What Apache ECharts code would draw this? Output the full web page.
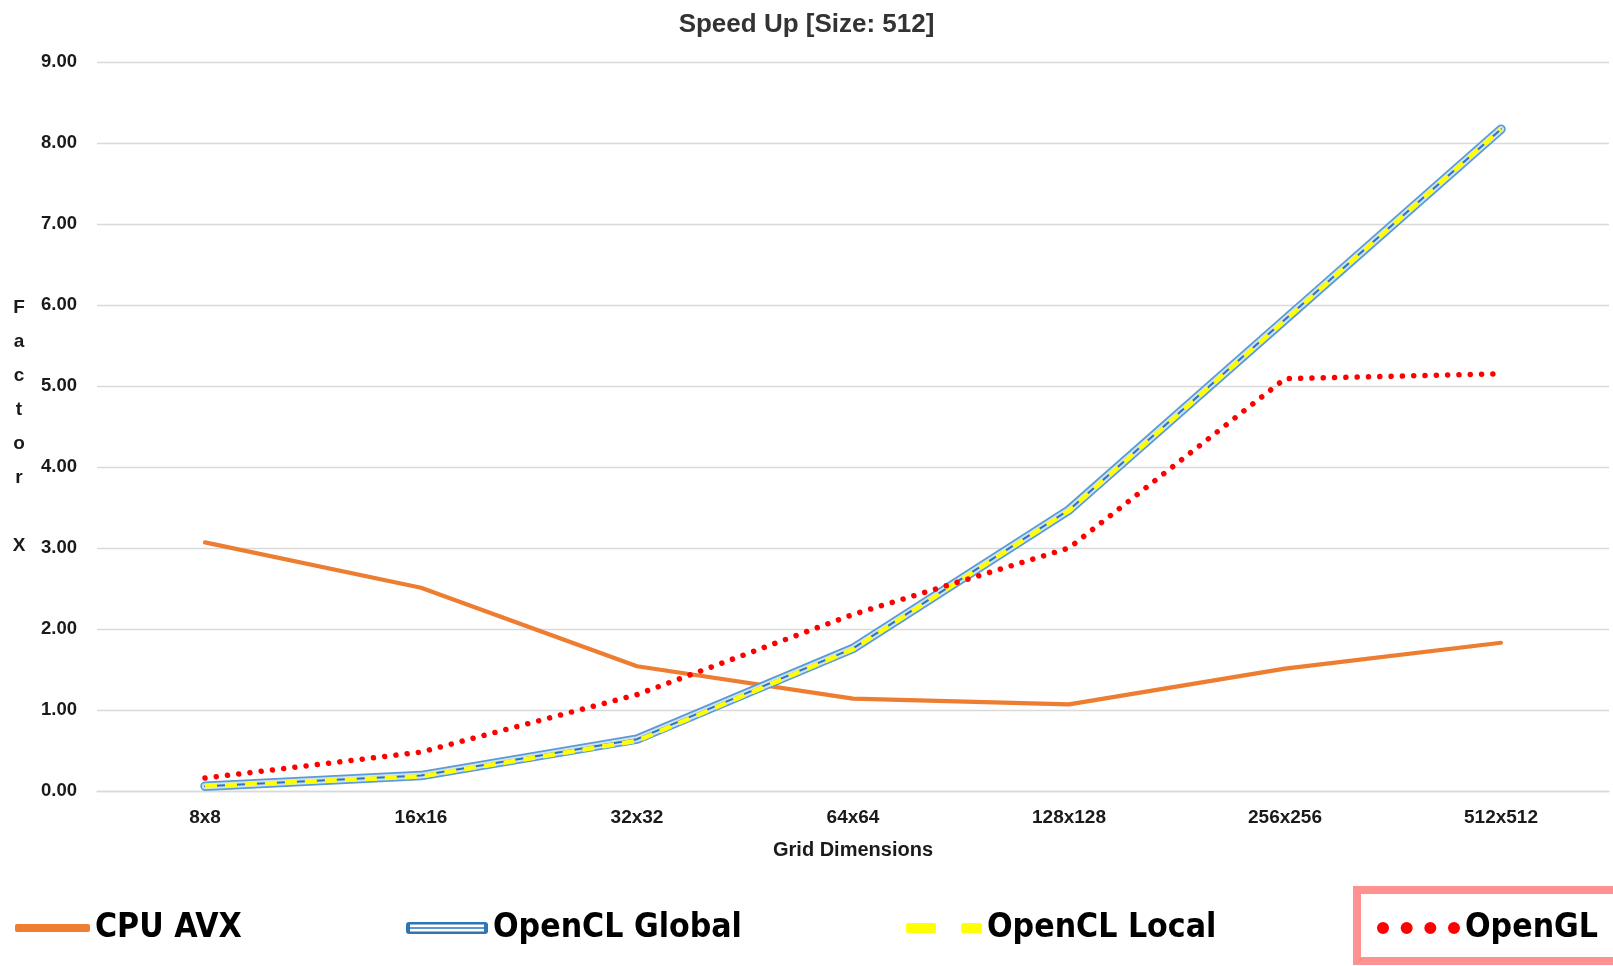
<!DOCTYPE html>
<html>
<head>
<meta charset="utf-8">
<script src="https://cdn.jsdelivr.net/npm/echarts@6/dist/echarts.min.js"></script>
<style>
  html, body { margin: 0; padding: 0; background: #ffffff; }
  #chart { width: 1613px; height: 966px; }
</style>
</head>
<body>
<div id="chart"></div>
<script>
// ---- data ----
const categories = ['8x8', '16x16', '32x32', '64x64', '128x128', '256x256', '512x512'];
const cpuAvx = [3.07, 2.51, 1.54, 1.14, 1.07, 1.51, 1.83];
const openclGlobal = [0.06, 0.19, 0.64, 1.76, 3.47, 5.82, 8.17];
const openclLocal = [0.06, 0.18, 0.62, 1.75, 3.46, 5.81, 8.17];
const openGL = [0.16, 0.48, 1.19, 2.18, 3.00, 5.09, 5.15];
const yTicks = { min: 0, max: 9, interval: 1 };
const titleText = 'Speed Up [Size: 512]';
const xName = 'Grid Dimensions';
const yName = 'F\na\nc\nt\no\nr\n \nX';

const boldFont = "'Liberation Sans', Arial, sans-serif";
const narrowFont = "'DejaVu Sans Condensed', 'Liberation Sans', sans-serif";

const legendText = { fontFamily: narrowFont, fontWeight: 'bold', fontSize: 33.5, color: '#000', lineHeight: 40 };

const iconGlobal = 'path://M3,0 H79 A3,3 0 0 1 82,3 V9 A3,3 0 0 1 79,12 H3 A3,3 0 0 1 0,9 V3 A3,3 0 0 1 3,0 Z M4,2.6 V5.2 H78 V2.6 Z M4,6.8 V9.4 H78 V6.8 Z';
const iconLocal = 'path://M2,0 H28 A2,2 0 0 1 30,2 V8 A2,2 0 0 1 28,10 H2 A2,2 0 0 1 0,8 V2 A2,2 0 0 1 2,0 Z M57,0 H74 A2,2 0 0 1 76,2 V8 A2,2 0 0 1 74,10 H57 A2,2 0 0 1 55,8 V2 A2,2 0 0 1 57,0 Z';
const iconGL = 'path://M0,6 A6,6 0 1,0 12,6 A6,6 0 1,0 0,6 Z M23.67,6 A6,6 0 1,0 35.67,6 A6,6 0 1,0 23.67,6 Z M47.33,6 A6,6 0 1,0 59.33,6 A6,6 0 1,0 47.33,6 Z M71,6 A6,6 0 1,0 83,6 A6,6 0 1,0 71,6 Z';

const chart = echarts.init(document.getElementById('chart'), null, { renderer: 'canvas' });

function legendBlock(name, left, icon, w, h, color) {
  return {
    left: left, top: 908, padding: 0, orient: 'horizontal',
    itemWidth: w, itemHeight: h, selectedMode: true,
    textStyle: legendText,
    data: [{ name: name, icon: icon, itemStyle: { color: color, borderWidth: 0 } }]
  };
}

const option = {
  backgroundColor: '#ffffff',
  animation: false,
  title: {
    text: titleText, left: 'center', top: 12, padding: 0,
    textStyle: { fontFamily: boldFont, fontWeight: 'bold', fontSize: 26, color: '#333333' }
  },
  grid: { left: 97, right: 4, top: 62, bottom: 175, containLabel: false },
  legend: [
    legendBlock('CPU AVX', 15, 'roundRect', 75, 8, '#ED7D31'),
    legendBlock('OpenCL Global', 406, iconGlobal, 82, 12, '#2E75B6'),
    legendBlock('OpenCL Local', 906, iconLocal, 76, 10, '#FFFF00'),
    legendBlock('OpenGL', 1377, iconGL, 83, 12, '#FF0000')
  ],
  graphic: [{
    type: 'rect', z: 0,
    shape: { x: 1357, y: 890, width: 270, height: 71 },
    style: { fill: 'none', stroke: '#FF9191', lineWidth: 8 }
  }],
  xAxis: {
    type: 'category', data: categories, boundaryGap: true,
    name: xName, nameLocation: 'middle', nameGap: 49,
    nameTextStyle: { fontFamily: boldFont, fontWeight: 'bold', fontSize: 20, color: '#1a1a1a' },
    axisLine: { show: true, lineStyle: { color: '#D9D9D9', width: 1.3 } },
    axisTick: { show: false },
    axisLabel: { margin: 17, fontFamily: boldFont, fontWeight: 'bold', fontSize: 19, color: '#1a1a1a' },
    splitLine: { show: false }
  },
  yAxis: {
    type: 'value', min: yTicks.min, max: yTicks.max, interval: yTicks.interval,
    name: yName, nameLocation: 'middle', nameRotate: 0, nameGap: 78,
    nameTextStyle: { fontFamily: boldFont, fontWeight: 'bold', fontSize: 19, color: '#1a1a1a', lineHeight: 34, align: 'center', verticalAlign: 'middle', padding: [10, 0, 0, 0] },
    axisLine: { show: false },
    axisTick: { show: false },
    axisLabel: {
      margin: 20, fontFamily: boldFont, fontWeight: 'bold', fontSize: 18.5, color: '#1a1a1a',
      formatter: v => v.toFixed(2)
    },
    splitLine: { show: true, lineStyle: { color: '#D9D9D9', width: 1.3 } }
  },
  series: [
    {
      name: 'CPU AVX', type: 'line', data: cpuAvx, symbol: 'none', z: 2,
      color: '#ED7D31',
      lineStyle: { color: '#ED7D31', width: 4.2, cap: 'round', join: 'round' }
    },
    {
      name: 'OpenCL Global', type: 'line', data: openclGlobal, symbol: 'none', z: 3,
      color: '#2E75B6',
      lineStyle: { color: '#5B9BD5', width: 9.5, cap: 'round', join: 'round' }
    },
    {
      name: 'OpenCL Global', type: 'line', data: openclGlobal, symbol: 'none', z: 4,
      color: '#2E75B6', silent: true,
      lineStyle: { color: '#CFE2F5', width: 6, cap: 'round', join: 'round' }
    },
    {
      name: 'OpenCL Global', type: 'line', data: openclGlobal, symbol: 'none', z: 5,
      color: '#2E75B6', silent: true,
      lineStyle: { color: '#2E75B6', width: 2, cap: 'round', join: 'round' }
    },
    {
      name: 'OpenCL Local', type: 'line', data: openclLocal, symbol: 'none', z: 6,
      color: '#FFFF00',
      lineStyle: { color: '#FFFF00', width: 4.5, type: [12, 8], cap: 'butt', join: 'round' }
    },
    {
      name: 'OpenGL', type: 'line', data: openGL, symbol: 'none', z: 7,
      color: '#FF0000',
      lineStyle: { color: '#FF0000', width: 5.5, type: [0.01, 11.3], cap: 'round', join: 'round' }
    }
  ]
};

chart.setOption(option);
</script>
</body>
</html>
